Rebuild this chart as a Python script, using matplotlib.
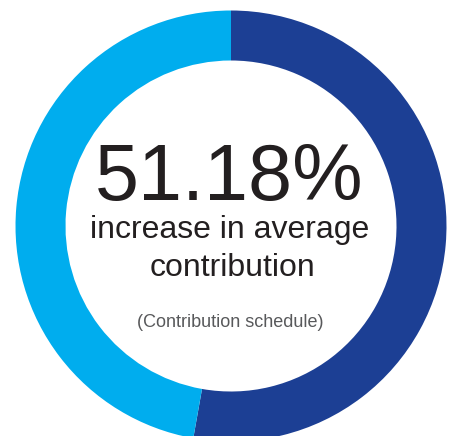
import matplotlib.pyplot as plt

# shares of the ring as drawn (dark segment runs clockwise from 12 o'clock)
segment_labels = ["Contribution increase", "Remainder"]
segment_shares = [52.8, 47.2]
segment_colors = ["#1c3f94", "#00adee"]

headline = "51.18%"
caption_lines = ["increase in average", "contribution"]
source_note = "(Contribution schedule)"

W, H = 454, 436
fig = plt.figure(figsize=(W / 100, H / 100), dpi=100)
ax = fig.add_axes([0, 0, 1, 1])

ax.pie(segment_shares, colors=segment_colors, startangle=90, counterclock=False,
       center=(231, H - 226), radius=215.5,
       wedgeprops=dict(width=50, linewidth=0))

ax.set_xlim(0, W)
ax.set_ylim(0, H)
ax.set_aspect("equal")
ax.axis("off")

font = "Liberation Sans"
ax.text(229, H - 200, headline, ha="center", va="baseline", fontsize=57,
        family=font, color="#231f20")
ax.text(230, H - 238, caption_lines[0], ha="center", va="baseline", fontsize=23,
        family=font, color="#231f20")
ax.text(232.5, H - 276, caption_lines[1], ha="center", va="baseline", fontsize=23,
        family=font, color="#231f20")
ax.text(230.5, H - 327, source_note, ha="center", va="baseline", fontsize=13,
        family=font, color="#58595b")

fig.savefig("out.png", dpi=100, facecolor="white")
